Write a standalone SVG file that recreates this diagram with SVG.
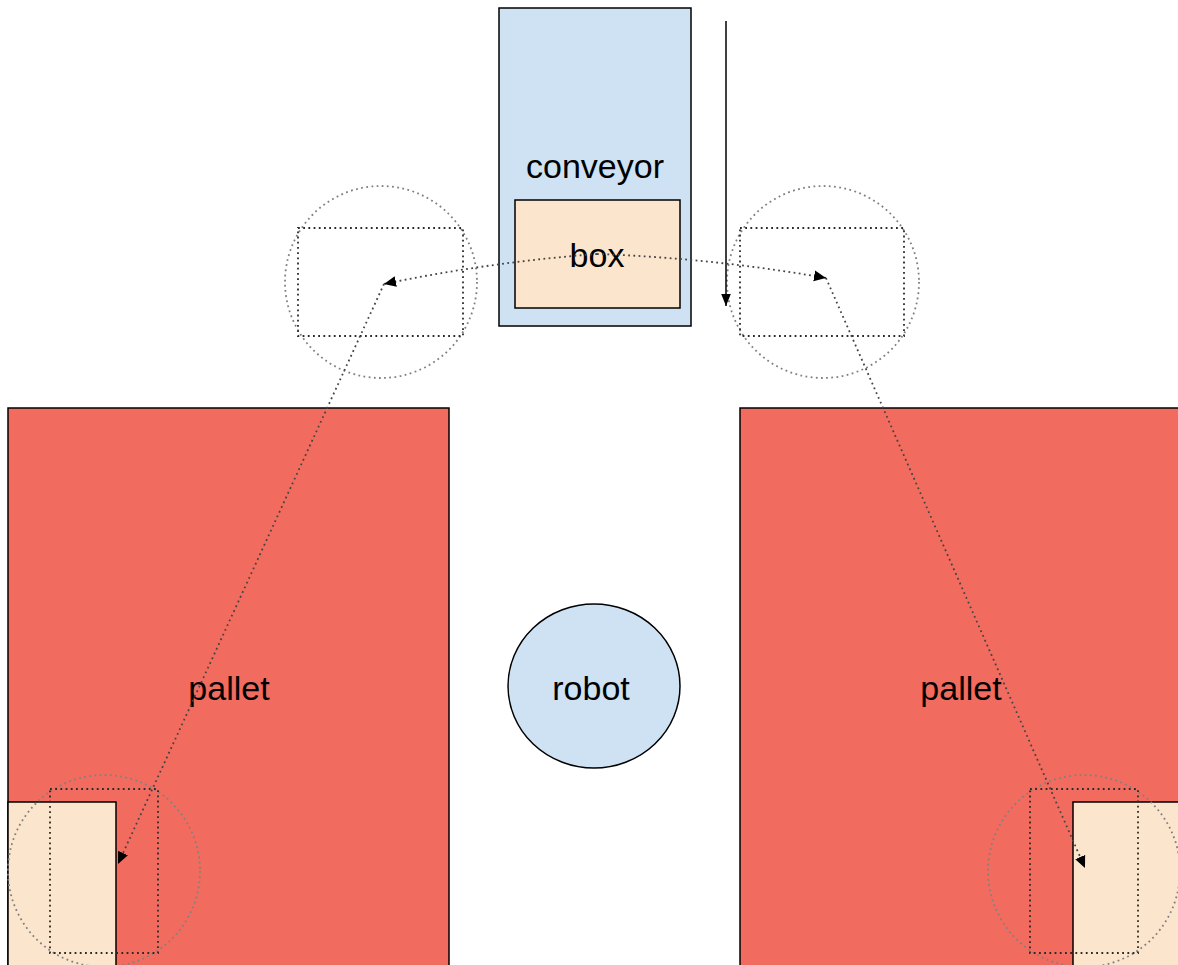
<svg xmlns="http://www.w3.org/2000/svg" width="1178" height="965" viewBox="0 0 1178 965">
<defs>
<style>
.solid{stroke:#000;stroke-width:1.5}
.pallet{fill:#f26b5f}
.blue{fill:#cfe2f3}
.beige{fill:#fce5cd}
.lbl{font-family:"Liberation Sans",Arial,sans-serif;font-size:34px;fill:#000;text-anchor:middle}
.dcirc{fill:none;stroke:#808080;stroke-width:1.8;stroke-dasharray:1.8 3.4}
.drect{fill:none;stroke:#2a2a2a;stroke-width:1.8;stroke-dasharray:1.8 3.4}
.conn{fill:none;stroke:#444;stroke-width:1.8;stroke-dasharray:1.8 3.4}
</style>
<marker id="ah" viewBox="0 0 10 10" refX="10" refY="5" markerWidth="12" markerHeight="12" markerUnits="userSpaceOnUse" orient="auto">
<path d="M0,0.5 L10,5 L0,9.5 z" fill="#000"/>
</marker>
<marker id="ahs" viewBox="0 0 10 10" refX="10" refY="5" markerWidth="12" markerHeight="12" markerUnits="userSpaceOnUse" orient="auto">
<path d="M0,1 L10,5 L0,9 z" fill="#000"/>
</marker>
</defs>
<rect width="1178" height="965" fill="#fff"/>
<g id="pallet-left">
<rect class="pallet solid" x="8" y="408" width="441" height="570"/>
<text class="lbl" x="229" y="700">pallet</text>
</g>
<g id="pallet-right">
<rect class="pallet solid" x="740" y="408" width="450" height="570"/>
<text class="lbl" x="961" y="700">pallet</text>
</g>
<g id="box-left">
<rect class="beige solid" x="8" y="802" width="108" height="176"/>
</g>
<g id="box-right">
<rect class="beige solid" x="1073" y="802" width="120" height="176"/>
</g>
<g id="conveyor">
<rect class="blue solid" x="499" y="8" width="192" height="318"/>
<text class="lbl" x="595" y="178">conveyor</text>
</g>
<g id="box">
<rect class="beige solid" x="515" y="200" width="165" height="108"/>
<text class="lbl" x="597" y="267">box</text>
</g>
<g id="robot">
<ellipse class="blue solid" cx="594" cy="686" rx="86" ry="82"/>
<text class="lbl" x="591" y="700">robot</text>
</g>
<g id="place-top-left">
<circle class="dcirc" cx="381" cy="282" r="96"/>
<rect class="drect" x="298" y="228" width="165" height="108"/>
</g>
<g id="place-top-right">
<circle class="dcirc" cx="823" cy="282" r="96"/>
<rect class="drect" x="740" y="228" width="164" height="108"/>
</g>
<g id="place-bottom-left">
<circle class="dcirc" cx="104" cy="871" r="96"/>
<rect class="drect" x="50" y="789" width="108" height="164"/>
</g>
<g id="place-bottom-right">
<circle class="dcirc" cx="1084" cy="871" r="96"/>
<rect class="drect" x="1030" y="789" width="108" height="164"/>
</g>
<g id="connectors">
<line class="solid" x1="726" y1="21" x2="726" y2="306" marker-end="url(#ahs)"/>
<path class="conn" d="M597,254 Q490,262 384,284" marker-end="url(#ah)"/>
<path class="conn" d="M597,254 Q712,258 826,278" marker-end="url(#ah)"/>
<path class="conn" d="M384,284 L118,864" marker-end="url(#ah)"/>
<path class="conn" d="M826,278 L1085,868" marker-end="url(#ah)"/>
</g>
</svg>
